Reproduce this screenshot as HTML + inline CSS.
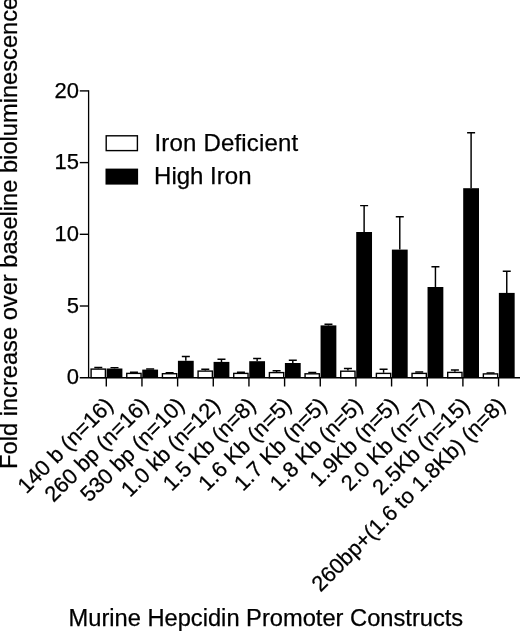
<!DOCTYPE html>
<html><head><meta charset="utf-8"><title>Chart</title>
<style>html,body{margin:0;padding:0;background:#fff}body{width:520px;height:631px;overflow:hidden}</style></head>
<body>
<svg width="520" height="631" viewBox="0 0 520 631" style="display:block;filter:grayscale(1) blur(0.3px)" font-family="'Liberation Sans', sans-serif" fill="#000">
<style>text{stroke:#000;stroke-width:0.25px}</style>
<rect width="520" height="631" fill="#fff"/>
<path d="M98.30 368.40V367.50M94.30 367.50H102.30" stroke="#000" stroke-width="1.45" fill="none"/>
<rect x="91.10" y="369.10" width="14.30" height="8.60" fill="#fff" stroke="#000" stroke-width="1.4"/>
<path d="M114.50 368.50V367.60M110.50 367.60H118.50" stroke="#000" stroke-width="1.45" fill="none"/>
<rect x="106.60" y="368.50" width="15.80" height="9.20" fill="#000"/>
<path d="M106.30 377.70V386.50" stroke="#000" stroke-width="1.4"/>
<path d="M133.96 372.70V372.20M129.96 372.20H137.96" stroke="#000" stroke-width="1.45" fill="none"/>
<rect x="126.76" y="373.40" width="14.30" height="4.30" fill="#fff" stroke="#000" stroke-width="1.4"/>
<path d="M150.16 369.60V369.00M146.16 369.00H154.16" stroke="#000" stroke-width="1.45" fill="none"/>
<rect x="142.26" y="369.60" width="15.80" height="8.10" fill="#000"/>
<path d="M141.96 377.70V386.50" stroke="#000" stroke-width="1.4"/>
<path d="M169.62 373.00V372.60M165.62 372.60H173.62" stroke="#000" stroke-width="1.45" fill="none"/>
<rect x="162.42" y="373.70" width="14.30" height="4.00" fill="#fff" stroke="#000" stroke-width="1.4"/>
<path d="M185.82 360.80V356.50M181.82 356.50H189.82" stroke="#000" stroke-width="1.45" fill="none"/>
<rect x="177.92" y="360.80" width="15.80" height="16.90" fill="#000"/>
<path d="M177.62 377.70V386.50" stroke="#000" stroke-width="1.4"/>
<path d="M205.28 370.40V369.20M201.28 369.20H209.28" stroke="#000" stroke-width="1.45" fill="none"/>
<rect x="198.08" y="371.10" width="14.30" height="6.60" fill="#fff" stroke="#000" stroke-width="1.4"/>
<path d="M221.48 361.90V359.20M217.48 359.20H225.48" stroke="#000" stroke-width="1.45" fill="none"/>
<rect x="213.58" y="361.90" width="15.80" height="15.80" fill="#000"/>
<path d="M213.28 377.70V386.50" stroke="#000" stroke-width="1.4"/>
<path d="M240.94 372.70V372.20M236.94 372.20H244.94" stroke="#000" stroke-width="1.45" fill="none"/>
<rect x="233.74" y="373.40" width="14.30" height="4.30" fill="#fff" stroke="#000" stroke-width="1.4"/>
<path d="M257.14 361.20V358.40M253.14 358.40H261.14" stroke="#000" stroke-width="1.45" fill="none"/>
<rect x="249.24" y="361.20" width="15.80" height="16.50" fill="#000"/>
<path d="M248.94 377.70V386.50" stroke="#000" stroke-width="1.4"/>
<path d="M276.60 371.90V370.80M272.60 370.80H280.60" stroke="#000" stroke-width="1.45" fill="none"/>
<rect x="269.40" y="372.60" width="14.30" height="5.10" fill="#fff" stroke="#000" stroke-width="1.4"/>
<path d="M292.80 363.00V360.30M288.80 360.30H296.80" stroke="#000" stroke-width="1.45" fill="none"/>
<rect x="284.90" y="363.00" width="15.80" height="14.70" fill="#000"/>
<path d="M284.60 377.70V386.50" stroke="#000" stroke-width="1.4"/>
<path d="M312.26 373.10V372.40M308.26 372.40H316.26" stroke="#000" stroke-width="1.45" fill="none"/>
<rect x="305.06" y="373.80" width="14.30" height="3.90" fill="#fff" stroke="#000" stroke-width="1.4"/>
<path d="M328.46 325.40V324.30M324.46 324.30H332.46" stroke="#000" stroke-width="1.45" fill="none"/>
<rect x="320.56" y="325.40" width="15.80" height="52.30" fill="#000"/>
<path d="M320.26 377.70V386.50" stroke="#000" stroke-width="1.4"/>
<path d="M347.92 370.50V368.50M343.92 368.50H351.92" stroke="#000" stroke-width="1.45" fill="none"/>
<rect x="340.72" y="371.20" width="14.30" height="6.50" fill="#fff" stroke="#000" stroke-width="1.4"/>
<path d="M364.12 232.00V205.60M360.12 205.60H368.12" stroke="#000" stroke-width="1.45" fill="none"/>
<rect x="356.22" y="232.00" width="15.80" height="145.70" fill="#000"/>
<path d="M355.92 377.70V386.50" stroke="#000" stroke-width="1.4"/>
<path d="M383.58 372.70V369.20M379.58 369.20H387.58" stroke="#000" stroke-width="1.45" fill="none"/>
<rect x="376.38" y="373.40" width="14.30" height="4.30" fill="#fff" stroke="#000" stroke-width="1.4"/>
<path d="M399.78 249.60V216.70M395.78 216.70H403.78" stroke="#000" stroke-width="1.45" fill="none"/>
<rect x="391.88" y="249.60" width="15.80" height="128.10" fill="#000"/>
<path d="M391.58 377.70V386.50" stroke="#000" stroke-width="1.4"/>
<path d="M419.24 372.70V372.00M415.24 372.00H423.24" stroke="#000" stroke-width="1.45" fill="none"/>
<rect x="412.04" y="373.40" width="14.30" height="4.30" fill="#fff" stroke="#000" stroke-width="1.4"/>
<path d="M435.44 287.00V266.80M431.44 266.80H439.44" stroke="#000" stroke-width="1.45" fill="none"/>
<rect x="427.54" y="287.00" width="15.80" height="90.70" fill="#000"/>
<path d="M427.24 377.70V386.50" stroke="#000" stroke-width="1.4"/>
<path d="M454.90 371.70V369.90M450.90 369.90H458.90" stroke="#000" stroke-width="1.45" fill="none"/>
<rect x="447.70" y="372.40" width="14.30" height="5.30" fill="#fff" stroke="#000" stroke-width="1.4"/>
<path d="M471.10 188.20V132.70M467.10 132.70H475.10" stroke="#000" stroke-width="1.45" fill="none"/>
<rect x="463.20" y="188.20" width="15.80" height="189.50" fill="#000"/>
<path d="M462.90 377.70V386.50" stroke="#000" stroke-width="1.4"/>
<path d="M490.56 373.20V372.90M486.56 372.90H494.56" stroke="#000" stroke-width="1.45" fill="none"/>
<rect x="483.36" y="373.90" width="14.30" height="3.80" fill="#fff" stroke="#000" stroke-width="1.4"/>
<path d="M506.76 292.90V271.20M502.76 271.20H510.76" stroke="#000" stroke-width="1.45" fill="none"/>
<rect x="498.86" y="292.90" width="15.80" height="84.80" fill="#000"/>
<path d="M498.56 377.70V386.50" stroke="#000" stroke-width="1.4"/>
<path d="M79.8 377.70H520" stroke="#000" stroke-width="1.5"/>
<path d="M88.6 90.30V377.70" stroke="#000" stroke-width="1.3"/>
<path d="M79.8 306.00H88.6" stroke="#000" stroke-width="1.4"/>
<path d="M79.8 234.30H88.6" stroke="#000" stroke-width="1.4"/>
<path d="M79.8 162.60H88.6" stroke="#000" stroke-width="1.4"/>
<path d="M79.8 90.90H88.6" stroke="#000" stroke-width="1.4"/>
<text x="78.9" y="384.45" font-size="22" text-anchor="end">0</text>
<text x="78.9" y="312.75" font-size="22" text-anchor="end">5</text>
<text x="78.9" y="241.05" font-size="22" text-anchor="end">10</text>
<text x="78.9" y="169.35" font-size="22" text-anchor="end">15</text>
<text x="78.9" y="97.65" font-size="22" text-anchor="end">20</text>
<rect x="106.2" y="135.8" width="31.2" height="14.8" fill="#fff" stroke="#000" stroke-width="1.4"/>
<rect x="105.5" y="168.6" width="32.6" height="16" fill="#000"/>
<text x="154.5" y="150.6" font-size="24" letter-spacing="0.18">Iron Deficient</text>
<text x="154.1" y="183.7" font-size="24">High Iron</text>
<text transform="translate(114.30 406.70) rotate(-45)" font-size="21.8" text-anchor="end">140 b (n=16)</text>
<text transform="translate(149.96 406.70) rotate(-45)" font-size="21.8" text-anchor="end">260 bp (n=16)</text>
<text transform="translate(185.62 406.70) rotate(-45)" font-size="21.8" text-anchor="end">530 bp (n=10)</text>
<text transform="translate(221.28 406.70) rotate(-45)" font-size="21.8" text-anchor="end">1.0 kb (n=12)</text>
<text transform="translate(256.94 406.70) rotate(-45)" font-size="21.8" text-anchor="end">1.5 Kb (n=8)</text>
<text transform="translate(292.60 406.70) rotate(-45)" font-size="21.8" text-anchor="end">1.6 Kb (n=5)</text>
<text transform="translate(328.26 406.70) rotate(-45)" font-size="21.8" text-anchor="end">1.7 Kb (n=5)</text>
<text transform="translate(363.92 406.70) rotate(-45)" font-size="21.8" text-anchor="end">1.8 Kb (n=5)</text>
<text transform="translate(399.58 406.70) rotate(-45)" font-size="21.8" text-anchor="end">1.9Kb (n=5)</text>
<text transform="translate(435.24 406.70) rotate(-45)" font-size="21.8" text-anchor="end">2.0 Kb (n=7)</text>
<text transform="translate(470.90 406.70) rotate(-45)" font-size="21.8" text-anchor="end">2.5Kb (n=15)</text>
<text transform="translate(506.56 406.70) rotate(-45)" font-size="21.8" text-anchor="end">260bp+(1.6 to 1.8Kb) (n=8)</text>
<text x="68.5" y="625.5" font-size="23.68">Murine Hepcidin Promoter Constructs</text>
<text transform="translate(17.1 468.9) rotate(-90)" font-size="23.66">Fold increase over baseline bioluminescence</text>
</svg>
</body></html>
